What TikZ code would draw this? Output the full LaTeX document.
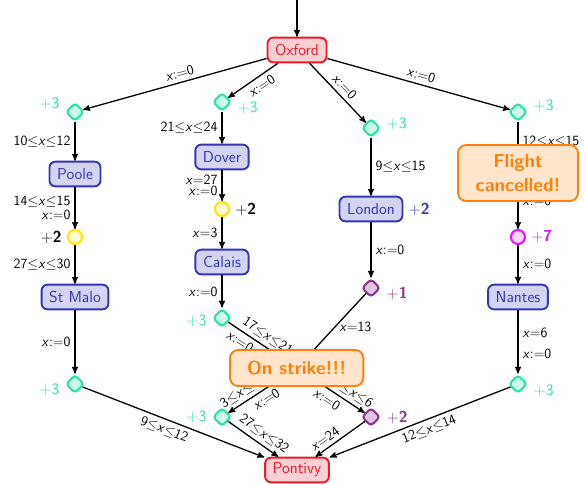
\documentclass[tikz,border=0pt]{standalone}
\usepackage{amssymb}
\usepackage{tikz}
\usetikzlibrary{positioning, arrows, shapes.geometric}

% colours of the travel map
\definecolor{cityline}{RGB}{52,52,180}
\definecolor{cityfill}{RGB}{212,212,242}
\definecolor{endline}{RGB}{232,28,40}
\definecolor{endfill}{RGB}{250,208,212}
\definecolor{newsline}{RGB}{255,128,10}
\definecolor{newsfill}{RGB}{255,229,204}
\definecolor{waitgreen}{RGB}{40,228,165}
\definecolor{waitgreenfill}{RGB}{205,250,232}
\definecolor{waityellow}{RGB}{255,232,0}
\definecolor{waityellowfill}{RGB}{255,250,215}
\definecolor{waitpurple}{RGB}{140,55,140}
\definecolor{waitpurplefill}{RGB}{222,200,226}
\definecolor{waitpink}{RGB}{235,20,235}
\definecolor{waitpinkfill}{RGB}{250,212,250}

\newcommand{\clk}{\textit{x}}
\newcommand{\guard}[2]{#1$\leq$\clk$\leq$#2}
\newcommand{\reset}{\clk{:=}0}

\tikzset{
->, % every edge is directed
>=stealth', % bold arrow heads
node distance=1.8cm, % distance between two stops on a line
every node/.style={font=\sffamily\large},
city/.style={draw=cityline, fill=cityfill, text=cityline, line width=1.6pt, rounded corners=5pt, font=\sffamily\fontsize{13.5}{16}\selectfont, minimum height=0.74cm, inner xsep=6.5pt},
endcity/.style={city, draw=endline, fill=endfill, text=endline},
news/.style={draw=newsline, fill=newsfill, text=newsline, line width=1.6pt, rounded corners=7pt, font=\sffamily\bfseries\fontsize{16}{20}\selectfont, align=center},
stay/.style={diamond, line width=1.8pt, rounded corners=3pt, minimum size=0.56cm, inner sep=0pt},
greenstay/.style={stay, draw=waitgreen, fill=waitgreenfill},
purplestay/.style={stay, draw=waitpurple, fill=waitpurplefill},
yellowstay/.style={circle, line width=1.8pt, minimum size=0.42cm, inner sep=0pt, draw=waityellow, fill=waityellowfill},
pinkstay/.style={yellowstay, draw=waitpink, fill=waitpinkfill},
cost/.style={font=\sffamily\fontsize{13.5}{16}\selectfont, label distance=1pt},
}

\begin{document}
\begin{tikzpicture}
\useasboundingbox (0,0) rectangle (17.55,-14.55);
\coordinate (start) at (8.91,0);
\node[endcity] (oxford) at (8.91,-1.5) {Oxford};
\node[endcity] (pontivy) at (8.91,-14.1) {Pontivy};

% ferry from Poole
\node[greenstay, label={[cost, waitgreen, yshift=7pt]left:+3}] (p0) at (2.25,-3.36) {};
\node[city, node distance=1.86cm, below of=p0] (poole) {Poole};
\node[yellowstay, node distance=1.89cm, below of=poole, label={[cost]left:+\textbf{2}}] (p1) {};
\node[city, below of=p1] (stmalo) {St Malo};
\node[greenstay, node distance=2.61cm, below of=stmalo, label={[cost, waitgreen, yshift=-5pt]left:+3}] (p2) {};

% ferry from Dover
\node[greenstay, label={[cost, waitgreen, yshift=-5pt]right:+3}] (d0) at (6.66,-3.06) {};
\node[city, node distance=1.65cm, below of=d0] (dover) {Dover};
\node[yellowstay, node distance=1.56cm, below of=dover, label={[cost]right:+\textbf{2}}] (d1) {};
\node[city, node distance=1.59cm, below of=d1] (calais) {Calais};
\node[greenstay, node distance=1.68cm, below of=calais, label={[cost, waitgreen, yshift=-2pt]left:+3}] (d2) {};

% train through London
\node[greenstay, label={[cost, waitgreen, yshift=4pt]right:+3}] (l0) at (11.13,-3.84) {};
\node[city, node distance=2.43cm, below of=l0, label={[cost, cityline]right:+\textbf{2}}] (london) {London};
\node[purplestay, node distance=2.37cm, below of=london, label={[cost, waitpurple, yshift=-5pt]right:+\textbf{1}}] (l1) {};

% flight to Nantes
\node[greenstay, label={[cost, waitgreen, yshift=5pt]right:+3}] (n0) at (15.54,-3.36) {};
\coordinate[below of=n0] (fly);
\node[pinkstay, node distance=1.95cm, below of=fly, label={[cost, waitpink]right:+\textbf{7}}] (n1) {};
\node[city, below of=n1] (nantes) {Nantes};
\node[greenstay, node distance=2.61cm, below of=nantes, label={[cost, waitgreen, yshift=-6pt]right:+3}] (n2) {};

% crossing in the middle
\coordinate (cross) at (8.91,-11.04);
\node[greenstay, label={[cost, waitgreen]left:+3}] (m0) at (6.66,-12.51) {};
\node[purplestay, label={[cost, waitpurple]right:+\textbf{2}}] (m1) at (11.13,-12.51) {};

\draw[line width=1.1pt]
    (start) edge (oxford)
    (oxford) edge[above, sloped] node[pos=0.46]{\reset} (p0)
    (oxford) edge[below, sloped] node[pos=0.43]{\reset} (d0)
    (oxford) edge[above, sloped] node{\reset} (l0)
    (oxford) edge[above, sloped] node{\reset} (n0)
    (p0) edge[left] node{\guard{10}{12}} (poole)
    (poole) edge[left] node[align=right]{\guard{14}{15}\\[-2pt]\reset} (p1)
    (p1) edge[left] node{\guard{27}{30}} (stmalo)
    (stmalo) edge[left] node{\reset} (p2)
    (p2) edge[below, sloped] node[pos=0.47]{\guard{9}{12}} (pontivy)
    (d0) edge[left] node{\guard{21}{24}} (dover)
    (dover) edge[left] node[align=right]{\clk=27\\[-5pt]\reset} (d1)
    (d1) edge[left] node{\clk=3} (calais)
    (calais) edge[left] node{\reset} (d2)
    (d2) edge[sloped] node[above, pos=0.49]{\guard{17}{21}} node[below, pos=0.25]{\reset} (cross)
    (l0) edge[right] node{\guard{9}{15}} (london)
    (london) edge[right] node{\reset} (l1)
    (l1) edge node[right, pos=0.45]{\clk=13} (cross)
    (cross) edge[sloped] node[above, pos=0.75]{\guard{3}{6}} node[below, pos=0.52]{\reset} (m0)
    (cross) edge[sloped] node[above, pos=0.75]{\guard{3}{6}} node[below, pos=0.52]{\reset} (m1)
    (m0) edge[above, sloped] node[pos=0.6]{\guard{27}{32}} (pontivy)
    (m1) edge[above, sloped] node[pos=0.7]{\clk=24} (pontivy)
    (n0) edge[right] node[pos=0.39]{\guard{12}{15}} (fly)
    (fly) edge[right] node[pos=0.5]{\reset} (n1)
    (n1) edge[right] node{\reset} (nantes)
    (nantes) edge[right] node[pos=0.36]{\clk=6} node[pos=0.69]{\reset} (n2)
    (n2) edge[below, sloped] node[pos=0.47]{\guard{12}{14}} (pontivy)
    ;

% news on top of the map
\node[news, minimum width=3.6cm, minimum height=1.68cm] (cancel) at (15.54,-5.19) {Flight\\cancelled!};
\node[news, minimum width=4cm, minimum height=1.08cm] (strike) at (8.9,-11.04) {On strike!!!};
\end{tikzpicture}
\end{document}
